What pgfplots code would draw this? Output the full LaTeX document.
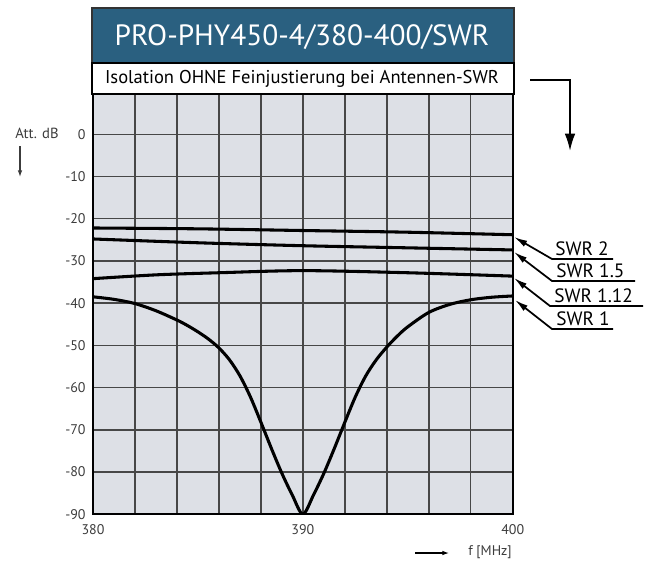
\documentclass[border=0pt]{standalone}
\usepackage{pgfplots}
\pgfplotsset{compat=1.18}
\usepackage{fontspec}
\setmainfont{PT Sans}
\usetikzlibrary{arrows.meta}

\definecolor{titleblue}{RGB}{42,96,128}
\definecolor{plotbg}{RGB}{221,224,230}
\definecolor{labelgray}{RGB}{60,60,60}

\begin{document}
\begin{tikzpicture}
% canvas in pixel units (y down)
\begin{scope}[x=0.75pt,y=-0.75pt]
  \useasboundingbox (0,0) rectangle (649,560);
\end{scope}

\begin{axis}[
    at={(69.75pt,-385.7pt)},
    anchor=south west,
    scale only axis,
    width=314.8pt,
    height=315.1pt,
    xmin=380, xmax=400,
    ymin=-90, ymax=9.5,
    xtick={380,382,...,400},
    xticklabels={380,,,,,390,,,,,400},
    ytick={-90,-80,...,0},
    yticklabels={-90,-80,-70,-60,-50,-40,-30,-20,-10,0},
    major tick length=0pt,
    grid=major,
    major grid style={black!72, line width=1.1pt},
    axis background/.style={fill=plotbg},
    axis line style={black, line width=1.6pt},
    tick label style={font=\fontsize{10.5}{12}\selectfont, text=labelgray},
    yticklabel style={xshift=-2pt},
    xticklabel style={yshift=-4.5pt},
    clip=true,
]

% SWR 2
\addplot[black, line width=2.3pt, smooth] coordinates {
(380,-22.2) (385,-22.4) (390,-22.8) (395,-23.2) (400,-23.8)};
% SWR 1.5
\addplot[black, line width=2.3pt, smooth] coordinates {
(380,-24.8) (385,-25.7) (390,-26.4) (395,-26.9) (400,-27.4)};
% SWR 1.12
\addplot[black, line width=2.3pt, smooth] coordinates {
(380,-34.2) (383,-33.3) (386,-32.8) (390,-32.3) (395,-32.8) (400,-33.6)};
% SWR 1
\addplot[black, line width=2.3pt, smooth] coordinates {
(380,-38.5) (381,-39.1) (382,-40.1) (383,-41.8) (384,-44.0) (384.5,-45.3)
(385,-46.8) (385.5,-48.5) (386,-50.6) (386.5,-53.4) (387,-57.2) (387.5,-62.2)
(388,-68.2) (388.5,-74.4) (389,-80.3) (389.5,-85.5) (390,-90)
(390.5,-85.5) (391,-80.3) (391.5,-74.4) (392,-68.2) (392.5,-62.2) (393,-57.2)
(393.5,-53.4) (394,-50.4) (394.5,-47.8) (395,-45.6) (396,-42.2) (397,-40.3)
(398,-39.2) (399,-38.6) (400,-38.3)};
\end{axis}

\begin{scope}[x=0.75pt,y=-0.75pt]
  % title boxes
  \draw[fill=titleblue, draw=black!80, line width=1pt] (92,8) rectangle (514,63);
  \node[text=white, font=\fontsize{22}{24}\selectfont] at (302,37) {PRO-PHY450-4/380-400/SWR};
  \draw[fill=white, draw=black, line width=1.2pt] (92,63) rectangle (514,94);
  \node[text=black, font=\fontsize{13.9}{16}\selectfont] at (302,78.5) {Isolation OHNE Feinjustierung bei Antennen-SWR};

  % axis captions
  \node[text=labelgray, font=\fontsize{11}{12}\selectfont, anchor=west, inner sep=0pt] at (15,133) {Att. dB};
  \draw[labelgray, line width=0.9pt, -{Latex[length=5pt,width=3.5pt]}] (20,146) -- (20,177);
  \node[text=labelgray, font=\fontsize{10.5}{12}\selectfont, anchor=west, inner sep=0pt] at (468,552) {f [MHz]};
  \draw[black, line width=0.9pt, -{Latex[length=5pt,width=3.5pt]}] (415,553) -- (449,553);

  % top right arrow
  \draw[black, line width=1.4pt, -{Latex[length=13pt,width=8pt]}] (530,80) -- (570,80) -- (570,151);

  % SWR leaders
  \draw[black, line width=1.3pt, -{Latex[length=10pt,width=5pt]}] (613,259) -- (552,259) -- (514,237);
  \draw[black, line width=1.3pt, -{Latex[length=10pt,width=5pt]}] (635,281) -- (552,281) -- (514,252);
  \draw[black, line width=1.3pt, -{Latex[length=10pt,width=5pt]}] (643,306) -- (550,306) -- (514,278);
  \draw[black, line width=1.3pt, -{Latex[length=10pt,width=5pt]}] (613,329) -- (552,329) -- (515,300);
  \node[font=\fontsize{14.5}{16}\selectfont, anchor=base west, inner sep=0pt] at (555,255) {SWR 2};
  \node[font=\fontsize{14.5}{16}\selectfont, anchor=base west, inner sep=0pt] at (556,277) {SWR 1.5};
  \node[font=\fontsize{14.5}{16}\selectfont, anchor=base west, inner sep=0pt] at (554,302) {SWR 1.12};
  \node[font=\fontsize{14.5}{16}\selectfont, anchor=base west, inner sep=0pt] at (556,325) {SWR 1};
\end{scope}
\end{tikzpicture}
\end{document}
